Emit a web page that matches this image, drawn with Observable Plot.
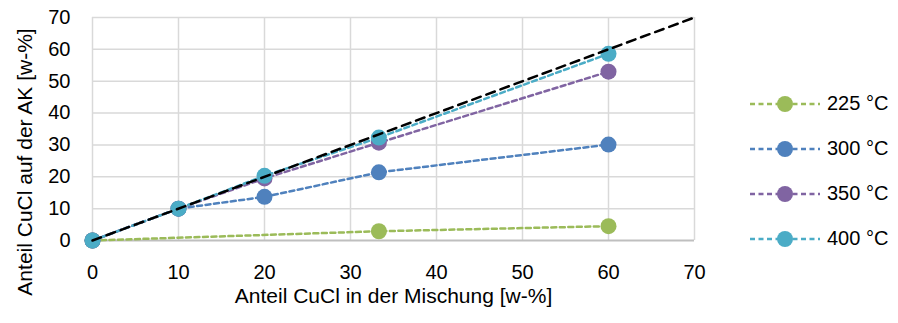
<!DOCTYPE html>
<html>
<head>
<meta charset="utf-8">
<script src="https://cdn.jsdelivr.net/npm/d3@7"></script>
<script src="https://cdn.jsdelivr.net/npm/@observablehq/plot@0.6"></script>
<style>
  html, body { margin: 0; padding: 0; background: #fff; }
  #wrap { position: relative; width: 898px; height: 323px; font-family: "Liberation Sans Narrow", "Liberation Sans", sans-serif; }
  #legend { position: absolute; left: 748px; top: 81px; }
  .item { display: flex; align-items: center; height: 45px; font-size: 20px; color: #000; }
  .item svg { margin-right: 5px; }
</style>
</head>
<body>
<div id="wrap"></div>
<script>
// Data
const mix = [0, 10, 20, 33.3, 60];                 // Anteil CuCl in der Mischung [w-%]
const seriesNames = ["225 °C", "300 °C", "350 °C", "400 °C"];
const s225 = [0, null, null, 2.9, 4.5];
const s300 = [0, 10, 13.7, 21.4, 30.1];
const s350 = [0, 10, 19.5, 30.7, 53.0];
const s400 = [0, 10, 20.3, 32.3, 58.6];
const seriesColors = ["#9BBB59", "#4F81BD", "#8064A2", "#4BACC6"];
const idealX = [0, 70];
const idealY = [0, 70];
const ticks = [0, 10, 20, 30, 40, 50, 60, 70];

const allSeries = [s225, s300, s350, s400];
const rows = [];
allSeries.forEach((s, i) => {
  s.forEach((v, j) => { if (v != null) rows.push({series: seriesNames[i], x: mix[j], y: v}); });
});
const ideal = idealX.map((x, i) => ({x, y: idealY[i]}));

const font = "Liberation Sans Narrow, Liberation Sans, sans-serif";

const marks = [
  Plot.ruleX(ticks, {stroke: "#d9d9d9", strokeWidth: 1.5}),
  Plot.ruleY(ticks.filter(t => t > 0), {stroke: "#d9d9d9", strokeWidth: 1.5}),
  Plot.ruleY([0], {stroke: "#bfbfbf", strokeWidth: 2}),
  Plot.axisX({ticks, tickSize: 0, tickPadding: 24, fontSize: 20, label: null, tickFormat: d => d}),
  Plot.axisY({ticks, tickSize: 0, tickPadding: 22, fontSize: 20, label: null, tickFormat: d => d}),
  Plot.text(["Anteil CuCl in der Mischung [w-%]"], {frameAnchor: "bottom", dy: 62, fontSize: 21, text: d => d}),
  Plot.text(["Anteil CuCl auf der AK [w-%]"], {frameAnchor: "left", textAnchor: "middle", dx: -67, dy: 33, rotate: -90, fontSize: 21, text: d => d})
];
seriesNames.forEach((name, i) => {
  const data = rows.filter(r => r.series === name);
  marks.push(Plot.line(data, {x: "x", y: "y", stroke: seriesColors[i], strokeWidth: 2.5, strokeDasharray: "5,3.5"}));
  marks.push(Plot.dot(data, {x: "x", y: "y", r: 8, fill: seriesColors[i], stroke: "none"}));
});
marks.push(Plot.line(ideal, {x: "x", y: "y", stroke: "#000", strokeWidth: 2.5, strokeDasharray: "9,6"}));

const chart = Plot.plot({
  width: 898,
  height: 323,
  marginLeft: 92,
  marginRight: 204,
  marginTop: 17,
  marginBottom: 83,
  style: {fontFamily: font, fontSize: "20px", color: "#000", background: "#fff", overflow: "visible"},
  x: {domain: [0, 70]},
  y: {domain: [0, 70]},
  marks
});
const wrap = document.getElementById("wrap");
wrap.appendChild(chart);

// Legend
const legend = document.createElement("div");
legend.id = "legend";
seriesNames.forEach((name, i) => {
  const item = document.createElement("div");
  item.className = "item";
  const c = seriesColors[i];
  item.innerHTML = `<svg width="74" height="20"><line x1="2" y1="10" x2="72" y2="10" stroke="${c}" stroke-width="2.5" stroke-dasharray="5,3.5"/><circle cx="37" cy="10" r="8" fill="${c}"/></svg><span>${name}</span>`;
  legend.appendChild(item);
});
wrap.appendChild(legend);
</script>
</body>
</html>
